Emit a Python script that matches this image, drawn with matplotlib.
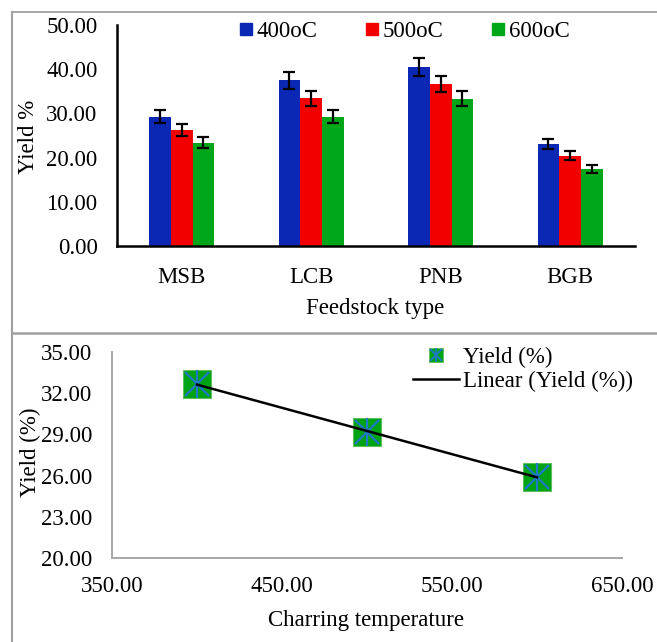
import matplotlib
matplotlib.use("Agg")
import matplotlib.pyplot as plt
import numpy as np
from matplotlib.lines import Line2D
from matplotlib.legend_handler import HandlerTuple

plt.rcParams['font.family'] = ['Liberation Serif', 'DejaVu Serif']

# ---- data ----
feedstocks = ["MSB", "LCB", "PNB", "BGB"]
temps_labels = ["400oC", "500oC", "600oC"]
yield_400 = [29.3, 37.5, 40.6, 23.1]
yield_500 = [26.2, 33.4, 36.6, 20.4]
yield_600 = [23.4, 29.3, 33.3, 17.5]
err_400 = [1.47, 1.88, 2.03, 1.16]
err_500 = [1.31, 1.67, 1.83, 1.02]
err_600 = [1.17, 1.47, 1.67, 0.88]

char_temp = [400, 500, 600]
mean_yield = [32.65, 29.2, 25.9]

bar_colors = ["#0a28b4", "#f20000", "#00a619"]
sq_green = "#00a314"
star_blue = "#1f78c8"

FS = 16.5

fig = plt.figure(figsize=(6.57, 6.42), dpi=100)

# ---- top panel: bar chart ----
ax1 = fig.add_axes([0.178, 0.6168, 0.7885, 0.3442])
x = np.arange(len(feedstocks))
w = 0.168
series = [yield_400, yield_500, yield_600]
errs = [err_400, err_500, err_600]
for i, (vals, e) in enumerate(zip(series, errs)):
    ax1.bar(x + (i - 1) * w, vals, width=w, color=bar_colors[i],
            yerr=e, capsize=4.5, error_kw=dict(ecolor="black", elinewidth=1.6, capthick=1.6),
            label=temps_labels[i], zorder=2)
ax1.set_xlim(-0.5, 3.5)
ax1.set_ylim(0, 50)
ax1.set_yticks(np.arange(0, 50.1, 10))
ax1.set_yticklabels([f"{v:.2f}" for v in np.arange(0, 50.1, 10)])
ax1.set_xticks(x)
ax1.set_xticklabels(feedstocks)
for s in ["top", "right"]:
    ax1.spines[s].set_visible(False)
for s in ["left", "bottom"]:
    ax1.spines[s].set_linewidth(1.8)
    ax1.spines[s].set_color("black")
ax1.tick_params(axis="y", length=0, pad=14, labelsize=FS)
ax1.tick_params(axis="x", length=0, pad=15, labelsize=FS)
leg_handles = [Line2D([], [], marker="s", linestyle="none", markersize=8.5,
                      markerfacecolor=c, markeredgecolor=c) for c in bar_colors]
ax1.legend(leg_handles, temps_labels, loc="upper center", bbox_to_anchor=(0.556, 1.06),
           ncol=3, frameon=False, fontsize=FS, handlelength=0.5, handletextpad=0.2,
           columnspacing=2.15, borderaxespad=0)

fig.text(0.043, 0.787, "Yield %", rotation=90, ha="center", va="center", fontsize=FS)
fig.text(0.571, 0.52, "Feedstock type", ha="center", va="center", fontsize=FS)

# ---- bottom panel: mean yield vs temperature ----
ax2 = fig.add_axes([0.1705, 0.1308, 0.7762, 0.3209])
coef = np.polyfit(char_temp, mean_yield, 1)
tx = np.array([min(char_temp), max(char_temp)])
ax2.plot(tx, np.polyval(coef, tx), color="black", linewidth=1.8, zorder=3,
         label="Linear (Yield (%))")
ax2.plot(char_temp, mean_yield, linestyle="none", marker="s", markersize=19.5,
         markerfacecolor=sq_green, markeredgecolor="#5cc05c", markeredgewidth=0.8, zorder=2)
ax2.plot(char_temp, mean_yield, linestyle="none", marker="x", markersize=17,
         markeredgecolor=star_blue, markeredgewidth=1.6, zorder=2.5)
ax2.plot(char_temp, mean_yield, linestyle="none", marker="|", markersize=19.5,
         markeredgecolor=star_blue, markeredgewidth=1.6, zorder=2.5)
ax2.set_xlim(350, 650)
ax2.set_ylim(20, 35)
ax2.set_xticks([350, 450, 550, 650])
ax2.set_xticklabels([f"{v:.2f}" for v in [350, 450, 550, 650]])
ax2.set_yticks(np.arange(20, 35.1, 3))
ax2.set_yticklabels([f"{v:.2f}" for v in np.arange(20, 35.1, 3)])
for s in ["top", "right"]:
    ax2.spines[s].set_visible(False)
for s in ["left", "bottom"]:
    ax2.spines[s].set_linewidth(1.4)
    ax2.spines[s].set_color("#a6a6a6")
ax2.tick_params(axis="y", length=0, pad=14, labelsize=FS)
ax2.tick_params(axis="x", length=0, pad=13, labelsize=FS)

h_sq = Line2D([], [], linestyle="none", marker="s", markersize=10,
              markerfacecolor=sq_green, markeredgecolor="#5cc05c", markeredgewidth=0.6)
h_x = Line2D([], [], linestyle="none", marker="x", markersize=8.5,
             markeredgecolor=star_blue, markeredgewidth=1.3)
h_v = Line2D([], [], linestyle="none", marker="|", markersize=10,
             markeredgecolor=star_blue, markeredgewidth=1.3)
h_line = Line2D([], [], color="black", linewidth=1.8)
ax2.legend([(h_sq, h_x, h_v), h_line], ["Yield (%)", "Linear (Yield (%))"],
           handler_map={tuple: HandlerTuple(ndivide=1, pad=0)},
           loc="upper right", bbox_to_anchor=(1.04, 1.07), frameon=False, fontsize=FS,
           handlelength=2.0, handletextpad=0.2, labelspacing=0.15, borderaxespad=0)

fig.text(0.046, 0.295, "Yield (%)", rotation=90, ha="center", va="center", fontsize=FS)
fig.text(0.557, 0.034, "Charring temperature", ha="center", va="center", fontsize=FS)

# ---- panel frame lines ----
gray = "#a0a0a0"
fig.add_artist(Line2D([0.0183, 1.0], [0.9813, 0.9813], color=gray, linewidth=1.3))
fig.add_artist(Line2D([0.0183, 1.0], [0.4813, 0.4813], color=gray, linewidth=1.8))
fig.add_artist(Line2D([0.0183, 0.0183], [0.0, 0.9813], color=gray, linewidth=1.5))

fig.savefig("out.png", dpi=100)
